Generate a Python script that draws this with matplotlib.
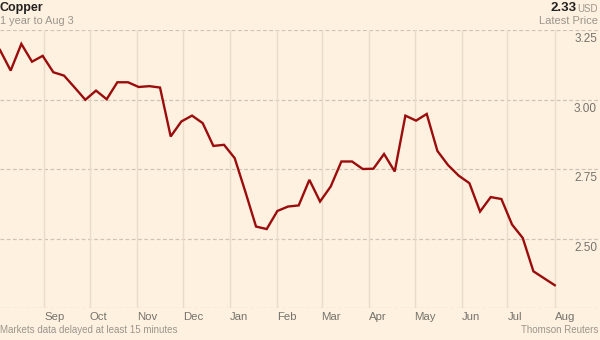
import matplotlib
matplotlib.use("Agg")
import matplotlib.pyplot as plt
import matplotlib.transforms as mtransforms
import pandas as pd

# ---- data ----
start_date = "2015-08-03"
prices = [3.178, 3.104, 3.200, 3.136, 3.157, 3.098, 3.086, 3.043, 2.999, 3.032,
          3.001, 3.062, 3.062, 3.045, 3.048, 3.043, 2.867, 2.921, 2.942, 2.915,
          2.833, 2.837, 2.789, 2.668, 2.543, 2.534, 2.599, 2.615, 2.619, 2.711,
          2.633, 2.687, 2.777, 2.777, 2.750, 2.751, 2.804, 2.741, 2.942, 2.924,
          2.948, 2.815, 2.764, 2.726, 2.699, 2.597, 2.649, 2.642, 2.550, 2.502,
          2.382, 2.357, 2.332]
dates = pd.date_range(start_date, periods=len(prices), freq="7D")
month_ticks = pd.date_range("2015-09-01", "2016-08-01", freq="MS")
month_labels = ["Sep", "Oct", "Nov", "Dec", "Jan", "Feb", "Mar", "Apr", "May", "Jun", "Jul", "Aug"]
y_grid = [2.25, 2.50, 2.75, 3.00, 3.25]
y_labels = ["3.25", "3.00", "2.75", "2.50"]
y_label_vals = [3.25, 3.00, 2.75, 2.50]
title = "Copper"
subtitle = "1 year to Aug 3"
latest = "2.33"
unit = "USD"
latest_lbl = "Latest Price"
foot_left = "Markets data delayed at least 15 minutes"
foot_right = "Thomson Reuters"

plt.rcParams["font.family"] = ["Liberation Sans", "DejaVu Sans"]

BG = "#fff1e0"
LINE = "#9b0d0d"
GRAY = "#74736c"
LGRAY = "#9a958d"

fig = plt.figure(figsize=(6, 3.4), dpi=100)
fig.patch.set_facecolor(BG)
ax = fig.add_axes([0, 32 / 340, 1, 278 / 340])
ax.set_facecolor(BG)
for s in ax.spines.values():
    s.set_visible(False)

x0 = pd.Timestamp(start_date)
ax.set_xlim(x0, x0 + pd.Timedelta(days=393.7))
ax.set_ylim(2.25, 3.25)

for yv in y_grid:
    ax.axhline(yv, color="#cdc3b6", lw=0.9, ls=(0, (3, 2)), zorder=1)

ax.set_xticks(month_ticks)
ax.set_xticklabels(month_labels, ha="left")
ax.tick_params(axis="x", length=0, pad=3, labelsize=8.2, colors=GRAY)
ax.grid(axis="x", color="#e9dccb", lw=1.0, zorder=0)
ax.set_yticks([])

trans = mtransforms.blended_transform_factory(ax.transAxes, ax.transData)
for v, lab in zip(y_label_vals, y_labels):
    ax.text(0.995, v - 0.012, lab, transform=trans, ha="right", va="top",
            fontsize=8.5, color=GRAY)

ax.plot(dates, prices, color=LINE, lw=1.7, zorder=3, solid_joinstyle="miter")

fig.text(0.0, 1 - 8 / 340, title, ha="left", va="center", fontsize=9,
         fontweight="bold", color="#222222")
fig.text(0.0, 1 - 21 / 340, subtitle, ha="left", va="center", fontsize=7.8,
         color=LGRAY)
fig.text(577 / 600, 1 - 8 / 340, latest, ha="right", va="center", fontsize=9.5,
         fontweight="bold", color="#222222")
fig.text(598 / 600, 1 - 8.5 / 340, unit, ha="right", va="center", fontsize=7,
         color=LGRAY)
fig.text(598 / 600, 1 - 21 / 340, latest_lbl, ha="right", va="center", fontsize=8,
         color=LGRAY)
fig.text(0.0, 1 - 330 / 340, foot_left, ha="left", va="center", fontsize=7,
         color=LGRAY)
fig.text(598 / 600, 1 - 330 / 340, foot_right, ha="right", va="center", fontsize=7,
         color=LGRAY)

fig.savefig("out.png", dpi=100, facecolor=BG)
